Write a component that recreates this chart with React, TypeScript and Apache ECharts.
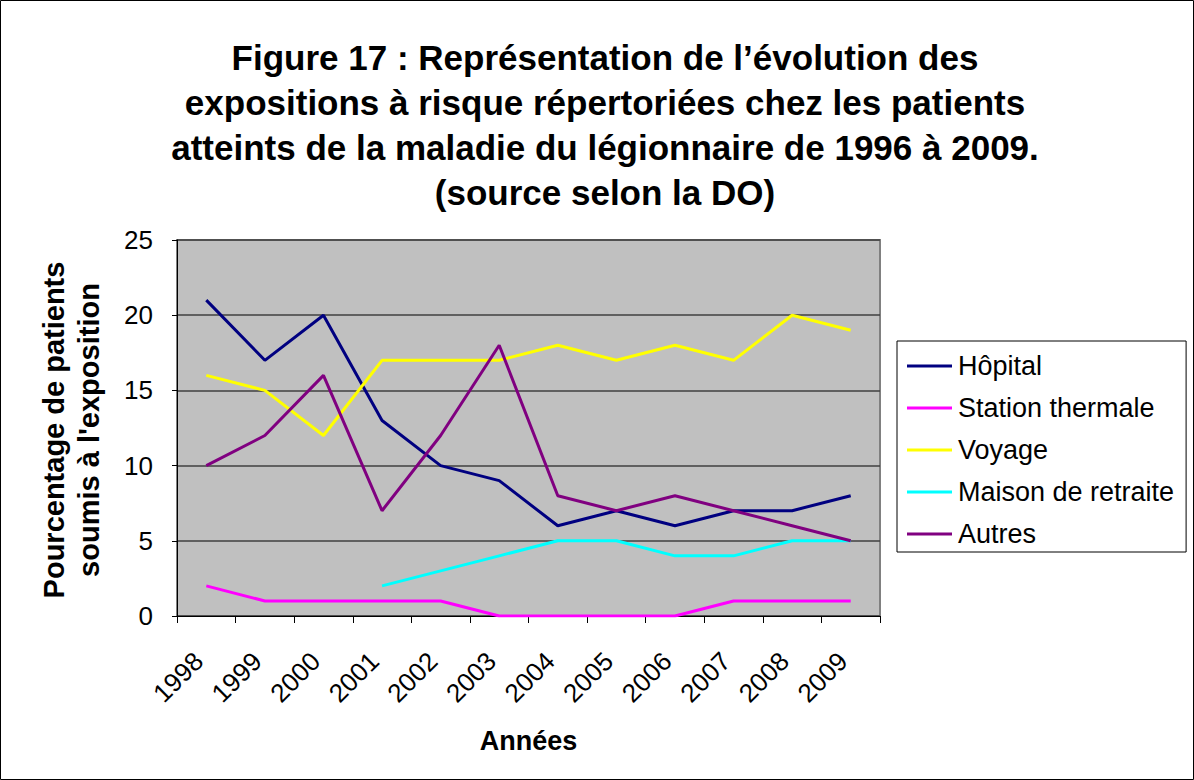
import React, { useEffect, useRef } from "react";
import * as echarts from "echarts";

const years = ["1998", "1999", "2000", "2001", "2002", "2003", "2004", "2005", "2006", "2007", "2008", "2009"];
const hopital = [21, 17, 20, 13, 10, 9, 6, 7, 6, 7, 7, 8];
const stationThermale = [2, 1, 1, 1, 1, 0, 0, 0, 0, 1, 1, 1];
const voyage = [16, 15, 12, 17, 17, 17, 18, 17, 18, 17, 20, 19];
const maisonRetraite = [null, null, null, 2, 3, 4, 5, 5, 4, 4, 5, 5];
const autres = [10, 12, 16, 7, 12, 18, 8, 7, 8, 7, 6, 5];
const yTicks = [0, 5, 10, 15, 20, 25];

const seriesDefs = [
  { name: "Hôpital", data: hopital, color: "#000080" },
  { name: "Station thermale", data: stationThermale, color: "#FF00FF" },
  { name: "Voyage", data: voyage, color: "#FFFF00" },
  { name: "Maison de retraite", data: maisonRetraite, color: "#00FFFF" },
  { name: "Autres", data: autres, color: "#800080" },
];

const FONT = "'Liberation Sans', Arial, sans-serif";

export default function App() {
  const ref = useRef<HTMLDivElement>(null);
  useEffect(() => {
    if (!ref.current) return;
    const chart = echarts.init(ref.current, null, { renderer: "svg" });
    chart.setOption({
      animation: false,
      backgroundColor: "#ffffff",
      textStyle: { fontFamily: FONT },
      title: {
        text: "Figure 17 : Représentation de l’évolution des\nexpositions à risque répertoriées chez les patients\natteints de la maladie du légionnaire de 1996 à 2009.\n(source selon la DO)",
        left: 600,
        top: 30,
        textAlign: "center",
        textStyle: { fontFamily: FONT, fontSize: 35, fontWeight: "bold", color: "#000", lineHeight: 45 },
      },
      legend: {
        orient: "vertical",
        left: 897,
        top: 341,
        icon: "rect",
        itemWidth: 45,
        itemHeight: 3,
        itemGap: 12,
        padding: [10, 12, 3, 10],
        borderColor: "#000",
        borderWidth: 1,
        textStyle: { fontFamily: FONT, fontSize: 27, color: "#000", lineHeight: 30, padding: [0, 0, 0, 1] },
        data: seriesDefs.map((s) => s.name),
      },
      grid: {
        left: 177,
        top: 240,
        width: 703,
        height: 376,
        show: true,
        backgroundColor: "#C0C0C0",
        borderColor: "#808080",
        borderWidth: 2,
        containLabel: false,
      },
      xAxis: {
        type: "category",
        data: years,
        boundaryGap: true,
        name: "Années",
        nameLocation: "middle",
        nameGap: 111,
        nameTextStyle: { fontFamily: FONT, fontSize: 27, fontWeight: "bold", color: "#000" },
        axisLine: { lineStyle: { color: "#000", width: 1 } },
        axisTick: { show: true, interval: 0, length: 7, lineStyle: { color: "#000" } },
        axisLabel: {
          interval: 0,
          rotate: 45,
          margin: 33,
          padding: [0, 11, 0, 0],
          fontSize: 26,
          color: "#000",
          fontFamily: FONT,
        },
        splitLine: { show: false },
      },
      yAxis: {
        type: "value",
        min: 0,
        max: 25,
        interval: 5,
        axisLine: { show: true, lineStyle: { color: "#000", width: 1 } },
        axisTick: { show: true, length: 5, lineStyle: { color: "#000" } },
        axisLabel: {
          margin: 24,
          fontSize: 26,
          color: "#000",
          fontFamily: FONT,
          formatter: (v: number) => (yTicks.includes(v) ? String(v) : ""),
        },
        splitLine: { show: true, lineStyle: { color: "#404040", width: 1.6 } },
      },
      graphic: [
        {
          type: "rect",
          shape: { x: 0.5, y: 0.5, width: 1193, height: 779 },
          style: { fill: "none", stroke: "#000", lineWidth: 1 },
          silent: true,
        },
        {
          type: "text",
          x: 71,
          y: 430,
          rotation: Math.PI / 2,
          style: {
            text: "Pourcentage de patients\nsoumis à l'exposition",
            fontFamily: FONT,
            fontSize: 29,
            fontWeight: "bold",
            fill: "#000",
            align: "center",
            verticalAlign: "middle",
            lineHeight: 35,
          },
        },
      ],
      series: seriesDefs.map((s) => ({
        name: s.name,
        type: "line",
        data: s.data,
        symbol: "none",
        connectNulls: false,
        lineStyle: { color: s.color, width: 3 },
        itemStyle: { color: s.color },
      })),
    });
    return () => chart.dispose();
  }, []);
  return <div ref={ref} style={{ position: "fixed", left: 0, top: 0, width: 1194, height: 780 }} />;
}
